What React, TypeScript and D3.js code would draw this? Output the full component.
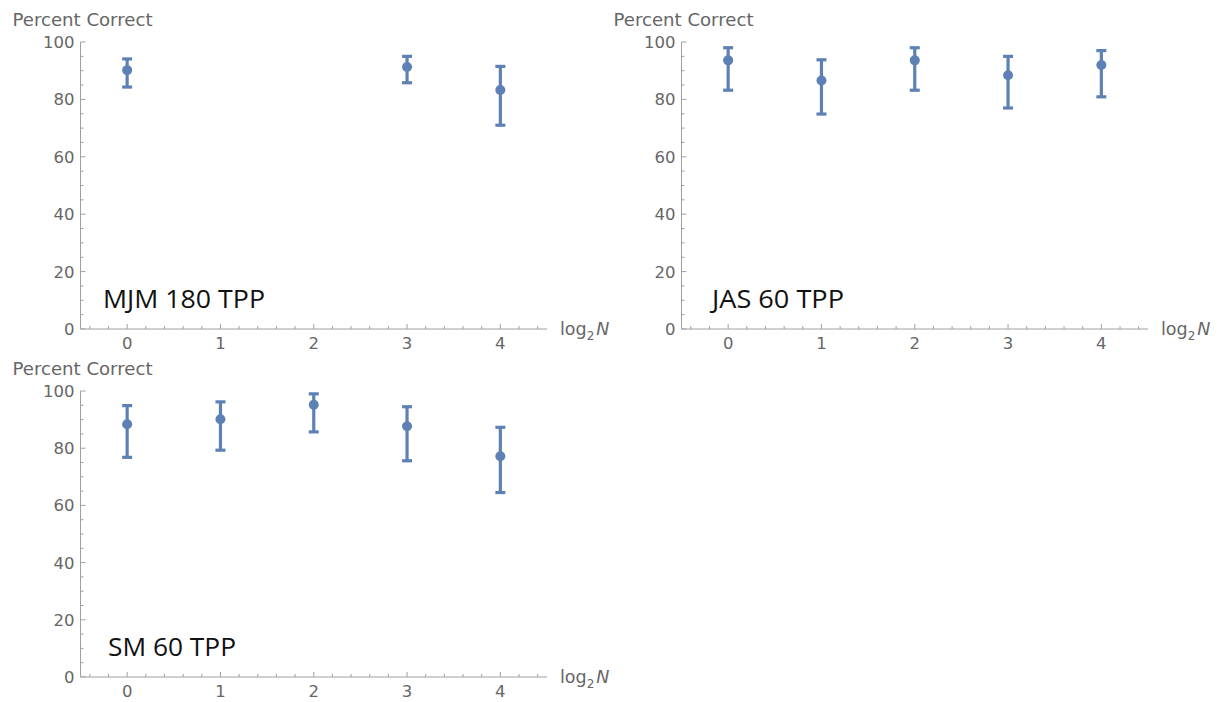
import React from "react";
import * as d3 from "d3";

const xTicks = [0, 1, 2, 3, 4];
const yTicks = [0, 20, 40, 60, 80, 100];

const mjmX = [0, 3, 4];
const mjmMean = [90.2, 91.3, 83.3];
const mjmLo = [84.3, 85.8, 71.0];
const mjmHi = [94.1, 95.0, 91.5];

const jasX = [0, 1, 2, 3, 4];
const jasMean = [93.6, 86.6, 93.6, 88.4, 92.0];
const jasLo = [83.2, 74.9, 83.2, 77.0, 80.9];
const jasHi = [98.0, 93.8, 98.0, 95.0, 97.0];

const smX = [0, 1, 2, 3, 4];
const smMean = [88.4, 90.1, 95.2, 87.7, 77.2];
const smLo = [76.8, 79.3, 85.7, 75.6, 64.5];
const smHi = [94.9, 96.2, 99.0, 94.5, 87.3];

const COLOR = "#5E81B5";
const AXIS = "#a0a0a0";
const LABEL = "#666666";

type PanelProps = {
  left: number;
  top: number;
  bottom: number;
  label: string;
  labelX: number;
  labelW: number;
  xs: number[];
  mean: number[];
  lo: number[];
  hi: number[];
};

function Panel({ left, top, bottom, label, labelX, labelW, xs, mean, lo, hi }: PanelProps) {
  const x = d3.scaleLinear().domain([-0.5, 4.5]).range([left, left + 466.5]);
  const y = d3.scaleLinear().domain([0, 100]).range([bottom, top]);
  const xMinor = d3.range(-0.4, 4.5, 0.2).filter((v) => Math.abs(v - Math.round(v)) > 0.01);
  const yMinor = d3.range(0, 101, 5).filter((v) => v % 20 !== 0);
  const x0 = x(-0.5);
  const y0 = y(0);
  const font = "'DejaVu Sans', sans-serif";
  return (
    <g>
      <line x1={x0} x2={x(4.5)} y1={y0} y2={y0} stroke={AXIS} strokeWidth={1} />
      <line x1={x0} x2={x0} y1={y0} y2={y(100)} stroke={AXIS} strokeWidth={1} />
      {xTicks.map((t) => (
        <g key={"xt" + t}>
          <line x1={x(t)} x2={x(t)} y1={y0} y2={y0 - 5} stroke={AXIS} />
          <text x={x(t)} y={y0 + 20} textAnchor="middle" fontSize={16.5} fill={LABEL} fontFamily={font}>
            {t}
          </text>
        </g>
      ))}
      {xMinor.map((t, i) => (
        <line key={"xm" + i} x1={x(t)} x2={x(t)} y1={y0} y2={y0 - 3} stroke={AXIS} />
      ))}
      {yTicks.map((t) => (
        <g key={"yt" + t}>
          <line x1={x0} x2={x0 + 5} y1={y(t)} y2={y(t)} stroke={AXIS} />
          <text x={x0 - 6} y={y(t) + 6} textAnchor="end" fontSize={16.5} fill={LABEL} fontFamily={font}>
            {t}
          </text>
        </g>
      ))}
      {yMinor.map((t) => (
        <line key={"ym" + t} x1={x0} x2={x0 + 3} y1={y(t)} y2={y(t)} stroke={AXIS} />
      ))}
      <text
        x={x0 - 68}
        y={y(100) - 16}
        fontSize={17}
        fill={LABEL}
        fontFamily={font}
        textLength={140}
        lengthAdjust="spacingAndGlyphs"
      >
        Percent Correct
      </text>
      <text x={x(4.5) + 13} y={y0 + 6} fontSize={17.5} fill={LABEL} fontFamily={font}>
        log
        <tspan fontSize={12} dy={5}>2</tspan>
        <tspan dy={-5} fontStyle="italic" dx={2}>N</tspan>
      </text>
      <text
        x={labelX}
        y={y0 - 21}
        fontSize={26}
        fill="#111"
        fontFamily="'Open Sans', sans-serif"
        textLength={labelW}
        lengthAdjust="spacingAndGlyphs"
      >
        {label}
      </text>
      {xs.map((xv, i) => (
        <g key={"p" + i}>
          <line x1={x(xv)} x2={x(xv)} y1={y(lo[i])} y2={y(hi[i])} stroke={COLOR} strokeWidth={3.2} />
          <line x1={x(xv) - 5} x2={x(xv) + 5} y1={y(lo[i])} y2={y(lo[i])} stroke={COLOR} strokeWidth={3.2} />
          <line x1={x(xv) - 5} x2={x(xv) + 5} y1={y(hi[i])} y2={y(hi[i])} stroke={COLOR} strokeWidth={3.2} />
          <circle cx={x(xv)} cy={y(mean[i])} r={5} fill={COLOR} />
        </g>
      ))}
    </g>
  );
}

export default function App() {
  return (
    <svg
      width={1224}
      height={702}
      style={{ position: "absolute", left: 0, top: 0, background: "#fff" }}
    >
      <Panel left={80.5} top={42} bottom={329} label="MJM 180 TPP" labelX={103} labelW={162}
        xs={mjmX} mean={mjmMean} lo={mjmLo} hi={mjmHi} />
      <Panel left={681.5} top={42} bottom={329} label="JAS 60 TPP" labelX={712} labelW={132}
        xs={jasX} mean={jasMean} lo={jasLo} hi={jasHi} />
      <Panel left={80.5} top={391} bottom={677} label="SM 60 TPP" labelX={108} labelW={128}
        xs={smX} mean={smMean} lo={smLo} hi={smHi} />
    </svg>
  );
}
